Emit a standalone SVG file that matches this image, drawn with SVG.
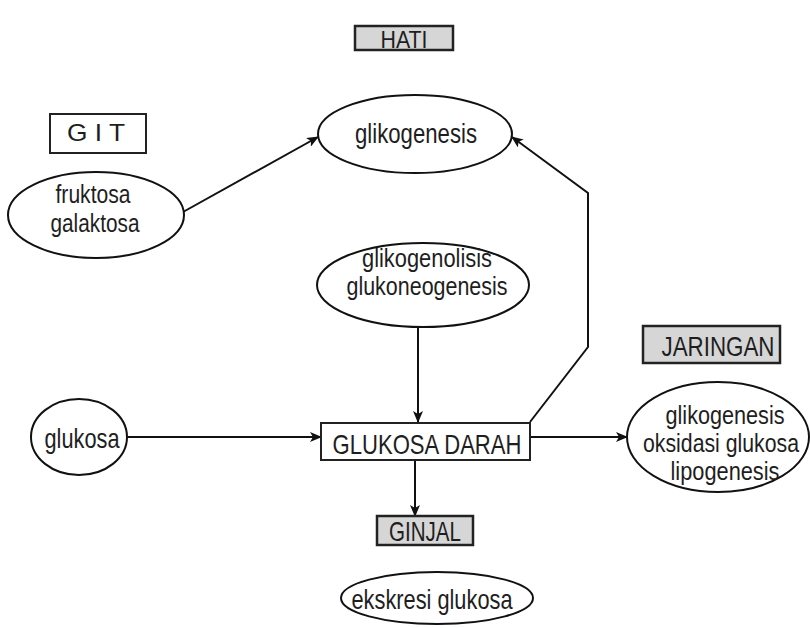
<svg xmlns="http://www.w3.org/2000/svg" width="810" height="628" viewBox="0 0 810 628">
<defs>
<marker id="ah" markerUnits="userSpaceOnUse" markerWidth="12" markerHeight="10" refX="11" refY="5" orient="auto">
<path d="M0,0 L12,5 L0,10 L3,5 Z" fill="#111"/>
</marker>
<style>
text{font-family:"Liberation Sans",Arial,sans-serif;fill:#1e1e1e;text-anchor:middle}
.t{font-size:27.5px}
.m{font-size:25px}
.s{font-size:24px}
.el{fill:#fff;stroke:#111;stroke-width:2}
.box{fill:#fff;stroke:#222;stroke-width:2}
.gray{fill:#d6d6d6;stroke:#222;stroke-width:2.5}
.ln{fill:none;stroke:#111;stroke-width:2}
</style>
</defs>
<rect width="810" height="628" fill="#fff"/>
<g id="connectors">
<line class="ln" x1="183" y1="212" x2="318" y2="137" marker-end="url(#ah)"/>
<polyline class="ln" points="530,422 588,347 588,193 512,137" marker-end="url(#ah)"/>
<line class="ln" x1="418" y1="327" x2="418" y2="422" marker-end="url(#ah)"/>
<line class="ln" x1="127" y1="437" x2="321" y2="437" marker-end="url(#ah)"/>
<line class="ln" x1="530" y1="437" x2="627" y2="437" marker-end="url(#ah)"/>
<line class="ln" x1="415" y1="460" x2="415" y2="516" marker-end="url(#ah)"/>
</g>
<g id="hati"><rect class="gray" x="355" y="26" width="98" height="24"/><text class="s" x="404" y="48" textLength="47" lengthAdjust="spacingAndGlyphs">HATI</text></g>
<g id="git"><rect class="box" x="50" y="114" width="96" height="39"/><text class="s" x="96" y="141" xml:space="preserve" textLength="58" lengthAdjust="spacingAndGlyphs">G I T</text></g>
<g id="fruktosa"><ellipse class="el" cx="96" cy="215" rx="88" ry="43"/><text class="m" x="93" y="203" textLength="75" lengthAdjust="spacingAndGlyphs">fruktosa</text><text class="m" x="95" y="232" textLength="89" lengthAdjust="spacingAndGlyphs">galaktosa</text></g>
<g id="glikogenesis"><ellipse class="el" cx="415" cy="134" rx="97" ry="39"/><text class="t" x="416" y="143" textLength="122" lengthAdjust="spacingAndGlyphs">glikogenesis</text></g>
<g id="glikogenolisis"><ellipse class="el" cx="423" cy="285" rx="106" ry="42"/><text class="m" x="427" y="267" textLength="130" lengthAdjust="spacingAndGlyphs">glikogenolisis</text><text class="m" x="427" y="295" textLength="161" lengthAdjust="spacingAndGlyphs">glukoneogenesis</text></g>
<g id="glukosa"><ellipse class="el" cx="79" cy="437" rx="48" ry="38"/><text class="t" x="82" y="448" textLength="75" lengthAdjust="spacingAndGlyphs">glukosa</text></g>
<g id="glukosa-darah"><rect class="box" x="321" y="423" width="209" height="37"/><text class="t" x="427" y="454" textLength="189" lengthAdjust="spacingAndGlyphs">GLUKOSA DARAH</text></g>
<g id="jaringan"><rect class="gray" x="643" y="326" width="137" height="37"/><text class="t" x="718" y="356" textLength="113" lengthAdjust="spacingAndGlyphs">JARINGAN</text></g>
<g id="jaringan-proses"><ellipse class="el" cx="718" cy="437" rx="91" ry="55"/><text class="m" x="725" y="424" textLength="119" lengthAdjust="spacingAndGlyphs">glikogenesis</text><text class="m" x="721" y="452" textLength="156" lengthAdjust="spacingAndGlyphs">oksidasi glukosa</text><text class="m" x="725" y="480" textLength="109" lengthAdjust="spacingAndGlyphs">lipogenesis</text></g>
<g id="ginjal"><rect class="gray" x="377" y="516" width="96" height="29"/><text class="t" x="425" y="541" textLength="72" lengthAdjust="spacingAndGlyphs">GINJAL</text></g>
<g id="ekskresi"><ellipse class="el" cx="437" cy="598" rx="96" ry="26"/><text class="t" x="432" y="609" textLength="161" lengthAdjust="spacingAndGlyphs">ekskresi glukosa</text></g>
</svg>
